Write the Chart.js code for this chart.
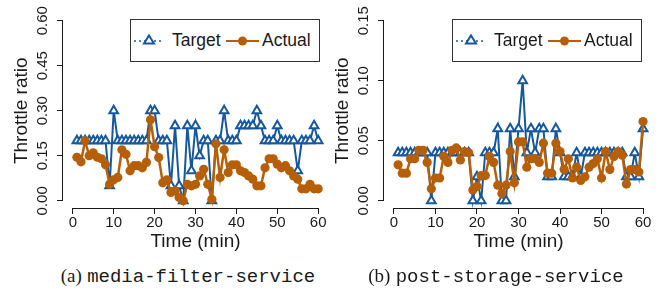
<!DOCTYPE html>
<html>
<head>
<meta charset="utf-8">
<script src="https://cdn.jsdelivr.net/npm/chart.js@4"></script>
<style>
  body { margin: 0; width: 670px; height: 296px; background: #fff; position: relative; overflow: hidden;
         font-family: "Liberation Sans", Arial, sans-serif; color: #1a1a1a; }
  .panel { position: absolute; top: 0; height: 251px; }
  .legend { position: absolute; top: 19px; width: 190px; height: 43px; border: 1px solid #333;
            box-sizing: border-box; background: #fff; font-size: 17.5px; }
  .legend svg { position: absolute; top: 0; }
  .legend span { position: absolute; top: 10px; line-height: 20px; }
  .caption { position: absolute; top: 265px; width: 320px; text-align: center; white-space: nowrap;
             font-size: 19px; line-height: 22px; }
  .caption .lbl { font-family: "Liberation Serif", "Times New Roman", serif; }
  .caption .name { font-family: "Liberation Mono", "DejaVu Sans Mono", monospace; }
</style>
</head>
<body>
<div class="panel" style="left:0;width:335px"><canvas id="chartA"></canvas></div>
<div class="panel" style="left:321px;width:349px"><canvas id="chartB"></canvas></div>

<div class="legend" style="left:130px" id="legA"></div>
<div class="legend" style="left:452px" id="legB"></div>

<div class="caption" style="left:28px"><span class="lbl">(a)</span> <span class="name">media-filter-service</span></div>
<div class="caption" style="left:336px"><span class="lbl">(b)</span> <span class="name">post-storage-service</span></div>

<script>
// minutes 1..60
const minutes = Array.from({ length: 60 }, (_, i) => i + 1);
const xTicks = [0, 10, 20, 30, 40, 50, 60];

// (a) media-filter-service
const mediaTicks = [0, 0.15, 0.30, 0.45, 0.60];
const mediaTarget = [
  0.20, 0.20, 0.20, 0.20, 0.20, 0.20, 0.20, 0.20, 0.05, 0.30,
  0.20, 0.20, 0.20, 0.20, 0.20, 0.20, 0.20, 0.20, 0.30, 0.30,
  0.20, 0.20, 0.20, 0.05, 0.25, 0.05, 0.00, 0.25, 0.10, 0.25,
  0.15, 0.20, 0.20, 0.00, 0.20, 0.20, 0.30, 0.20, 0.20, 0.20,
  0.25, 0.25, 0.25, 0.25, 0.30, 0.25, 0.20, 0.20, 0.20, 0.25,
  0.20, 0.20, 0.20, 0.20, 0.10, 0.20, 0.20, 0.20, 0.25, 0.20
];
const mediaActual = [
  0.145, 0.13, 0.20, 0.15, 0.16, 0.145, 0.14, 0.12, 0.055, 0.07,
  0.078, 0.17, 0.155, 0.10, 0.117, 0.117, 0.11, 0.128, 0.27, 0.18,
  0.144, 0.06, 0.07, 0.028, 0.033, 0.011, 0.00, 0.055, 0.05, 0.055,
  0.083, 0.105, 0.055, 0.005, 0.19, 0.078, 0.17, 0.094, 0.12, 0.12,
  0.10, 0.094, 0.083, 0.072, 0.05, 0.05, 0.11, 0.14, 0.14, 0.122,
  0.11, 0.117, 0.10, 0.083, 0.072, 0.04, 0.04, 0.055, 0.04, 0.04
];

// (b) post-storage-service
const postTicks = [0, 0.05, 0.10, 0.15];
const postTarget = [
  0.04, 0.04, 0.04, 0.04, 0.04, 0.04, 0.04, 0.04, 0.00, 0.04,
  0.04, 0.04, 0.04, 0.04, 0.04, 0.04, 0.04, 0.04, 0.00, 0.02,
  0.00, 0.04, 0.04, 0.04, 0.06, 0.00, 0.00, 0.06, 0.02, 0.06,
  0.10, 0.04, 0.06, 0.04, 0.06, 0.06, 0.02, 0.02, 0.06, 0.04,
  0.02, 0.02, 0.02, 0.04, 0.02, 0.04, 0.04, 0.04, 0.04, 0.04,
  0.04, 0.04, 0.04, 0.04, 0.04, 0.02, 0.02, 0.04, 0.02, 0.06
];
const postActual = [
  0.030, 0.023, 0.023, 0.035, 0.035, 0.042, 0.042, 0.032, 0.010, 0.019,
  0.019, 0.037, 0.032, 0.042, 0.044, 0.034, 0.041, 0.040, 0.009, 0.012,
  0.021, 0.021, 0.037, 0.032, 0.013, 0.006, 0.013, 0.041, 0.015, 0.049,
  0.049, 0.028, 0.035, 0.035, 0.032, 0.048, 0.023, 0.023, 0.048, 0.041,
  0.026, 0.035, 0.019, 0.028, 0.017, 0.020, 0.028, 0.031, 0.035, 0.019,
  0.041, 0.026, 0.037, 0.041, 0.038, 0.014, 0.026, 0.026, 0.024, 0.066
];

const BLUE = '#15589c';
const ORANGE = '#b65f08';
const INK = '#1a1a1a';

// R-style detached axis lines, drawn from first to last tick only
const axisLines = {
  id: 'axisLines',
  afterDraw(chart, args, opts) {
    const { ctx, chartArea, scales: { x, y } } = chart;
    ctx.save();
    ctx.strokeStyle = INK;
    ctx.lineWidth = 1;
    ctx.beginPath();
    const yb = Math.round(chartArea.bottom) + 0.5;
    ctx.moveTo(x.getPixelForValue(xTicks[0]), yb);
    ctx.lineTo(x.getPixelForValue(xTicks[xTicks.length - 1]), yb);
    const xl = Math.round(chartArea.left) - 0.5;
    ctx.moveTo(xl, y.getPixelForValue(opts.yTicks[0]));
    ctx.lineTo(xl, y.getPixelForValue(opts.yTicks[opts.yTicks.length - 1]));
    ctx.stroke();
    ctx.restore();
  }
};

function makeChart(id, target, actual, yTicks, yMax, padRight) {
  const pad = yMax * 0.04;
  return new Chart(document.getElementById(id), {
    type: 'line',
    data: {
      labels: minutes,
      datasets: [
        {
          label: 'Actual',
          data: actual.map((v, i) => ({ x: minutes[i], y: v })),
          borderColor: ORANGE,
          backgroundColor: ORANGE,
          borderWidth: 2.5,
          pointStyle: 'circle',
          pointRadius: 4.6,
          pointBorderWidth: 0,
          pointBackgroundColor: ORANGE,
          tension: 0,
          clip: false,
          order: 0
        },
        {
          label: 'Target',
          data: target.map((v, i) => ({ x: minutes[i], y: v })),
          borderColor: BLUE,
          borderWidth: 2,
          pointStyle: 'triangle',
          pointRadius: 5,
          pointBorderWidth: 2,
          pointBorderColor: BLUE,
          pointBackgroundColor: '#fff',
          tension: 0,
          clip: false,
          order: 1
        }
      ]
    },
    options: {
      responsive: true,
      maintainAspectRatio: false,
      animation: false,
      layout: { padding: { top: 13.5, right: padRight, left: 0, bottom: 0 } },
      plugins: {
        legend: { display: false },
        tooltip: { enabled: false },
        axisLines: { yTicks }
      },
      scales: {
        x: {
          type: 'linear',
          min: -2.4,
          max: 62.4,
          afterBuildTicks: s => { s.ticks = xTicks.map(v => ({ value: v })); },
          afterFit: s => { s.height = 43; },
          grid: { drawOnChartArea: false, drawTicks: true, tickLength: 6, color: INK },
          border: { display: false },
          ticks: { color: INK, padding: 0, maxRotation: 0, font: { family: 'Liberation Sans', size: 15 } },
          title: {
            display: true, text: 'Time (min)', color: INK,
            font: { family: 'Liberation Sans', size: 19, lineHeight: 1 }, padding: { top: 0, bottom: 0 }
          }
        },
        y: {
          min: -pad,
          max: yMax + pad,
          afterBuildTicks: s => { s.ticks = yTicks.map(v => ({ value: v })); },
          afterFit: s => { s.width = 63; },
          grid: { drawOnChartArea: false, drawTicks: true, tickLength: 6, color: INK },
          border: { display: false },
          ticks: {
            color: INK, padding: 0, crossAlign: 'center', minRotation: 90, maxRotation: 90,
            font: { family: 'Liberation Sans', size: 15 },
            callback: v => v.toFixed(2)
          },
          title: {
            display: true, text: 'Throttle ratio', color: INK,
            font: { family: 'Liberation Sans', size: 19, lineHeight: 1 }, padding: { top: 12.5, bottom: 0 }
          }
        }
      }
    },
    plugins: [axisLines]
  });
}

makeChart('chartA', mediaTarget, mediaActual, mediaTicks, 0.60, 5);
makeChart('chartB', postTarget, postActual, postTicks, 0.15, 17);

// legends (R style: dotted line + open triangle, solid line + filled dot)
function buildLegend(id) {
  const el = document.getElementById(id);
  el.innerHTML =
    `<svg width="40" height="41" style="left:2px">
       <line x1="1" y1="21" x2="31" y2="21" stroke="${BLUE}" stroke-width="1.6" stroke-dasharray="2,3"/>
       <polygon points="16,15.5 21,23.5 11,23.5" fill="#fff" stroke="${BLUE}" stroke-width="2"/>
     </svg>
     <span style="left:41px">Target</span>
     <svg width="40" height="41" style="left:94px">
       <line x1="1" y1="21" x2="34" y2="21" stroke="${ORANGE}" stroke-width="2"/>
       <circle cx="17.5" cy="21" r="4.5" fill="${ORANGE}"/>
     </svg>
     <span style="left:131px">Actual</span>`;
}
buildLegend('legA');
buildLegend('legB');
</script>
</body>
</html>
